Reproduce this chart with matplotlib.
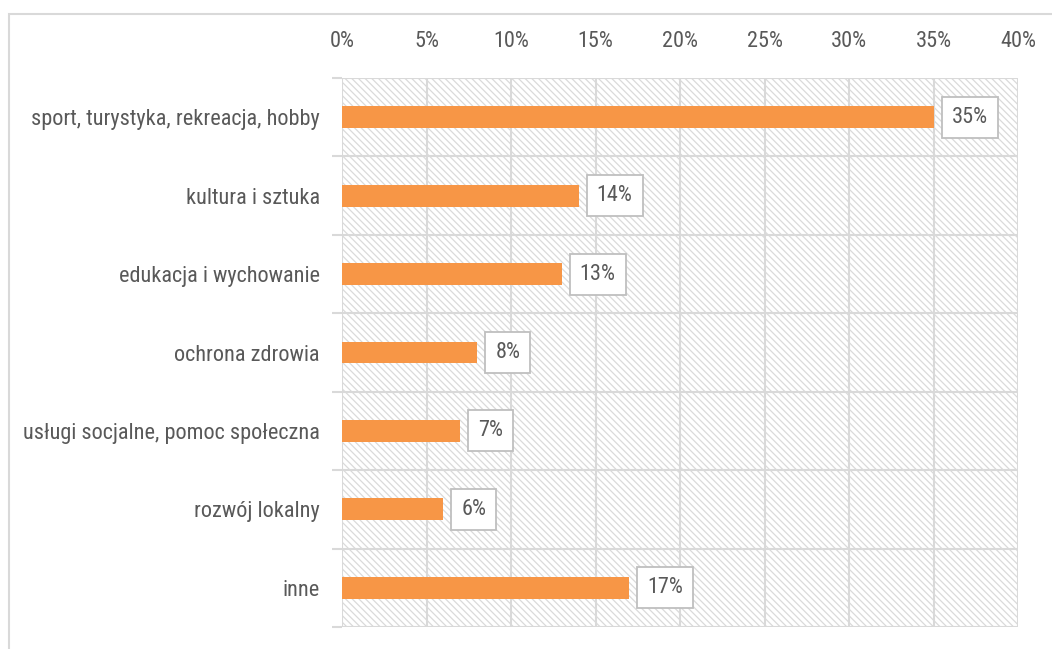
import matplotlib
matplotlib.use("Agg")
import matplotlib.pyplot as plt
from matplotlib import font_manager
from matplotlib.patches import Rectangle
import numpy as np

# dane
kategorie = ["sport, turystyka, rekreacja, hobby", "kultura i sztuka", "edukacja i wychowanie",
             "ochrona zdrowia", "usługi socjalne, pomoc społeczna", "rozwój lokalny", "inne"]
wartosci = [35, 14, 13, 8, 7, 6, 17]
xticks = [0, 5, 10, 15, 20, 25, 30, 35, 40]

# czcionka waska jak Arial Narrow, jesli jest
dostepne = {f.name for f in font_manager.fontManager.ttflist}
czcionka = 'Liberation Sans'
for nazwa in ['Liberation Sans Narrow', 'DejaVu Sans Condensed', 'Roboto Condensed', 'Liberation Sans']:
    if nazwa in dostepne:
        czcionka = nazwa
        break
plt.rcParams['font.family'] = [czcionka, 'DejaVu Sans']
plt.rcParams['hatch.linewidth'] = 0.9

szary_tekst = '#595959'
szary_linia = '#d9d9d9'

fig = plt.figure(figsize=(10.52, 6.49), dpi=100)

# dobieramy rozmiar tak, zeby najdluzszy opis mial ~290 px szerokosci
r = fig.canvas.get_renderer()
t = fig.text(0, 0, kategorie[0], fontsize=16)
szer = t.get_window_extent(renderer=r).width
t.remove()
rozmiar = min(16, 16 * 290 / szer)

# ramka wokol calego wykresu
fig.patches.append(Rectangle((8.5 / 1052, -0.1), 1.2, 1 - 13.5 / 649 + 0.1, transform=fig.transFigure,
                             fill=False, edgecolor=szary_linia, lw=1.5))

ax = fig.add_axes([342 / 1052, 1 - 627 / 649, 676 / 1052, 549 / 649])
y = np.arange(len(kategorie))

# tlo w paski
ax.add_patch(Rectangle((0, 0), 1, 1, transform=ax.transAxes, facecolor='white',
                       edgecolor='#dadada', hatch='\\' * 5, lw=0, zorder=0))

ax.barh(y, wartosci, height=0.28, color='#f79646', zorder=3)

for yi, v in zip(y, wartosci):
    ax.annotate(f"{v}%", xy=(v, yi), xytext=(13, 0), textcoords='offset points',
                ha='left', va='center', fontsize=rozmiar, color=szary_tekst, zorder=4,
                bbox=dict(boxstyle='square,pad=0.45', facecolor='white', edgecolor='#bfbfbf', lw=1.3))

ax.set_xlim(0, 40)
ax.set_ylim(len(kategorie) - 0.5, -0.5)
ax.set_xticks(xticks)
ax.set_xticklabels([f"{t}%" for t in xticks])
ax.xaxis.tick_top()
ax.tick_params(axis='x', length=0, pad=19, labelsize=rozmiar, labelcolor=szary_tekst)

ax.set_yticks(y)
ax.set_yticklabels(kategorie)
ax.set_yticks(np.arange(len(kategorie) + 1) - 0.5, minor=True)
ax.tick_params(axis='y', which='major', length=0, pad=16, labelsize=rozmiar, labelcolor=szary_tekst)
ax.tick_params(axis='y', which='minor', length=7, width=1.5, color=szary_linia)

ax.grid(axis='x', color=szary_linia, lw=1.5, zorder=1)
ax.grid(axis='y', which='minor', color=szary_linia, lw=1.5, zorder=1)
ax.set_axisbelow(True)
for s in ax.spines.values():
    s.set_visible(False)

fig.savefig('out.png', dpi=100)
